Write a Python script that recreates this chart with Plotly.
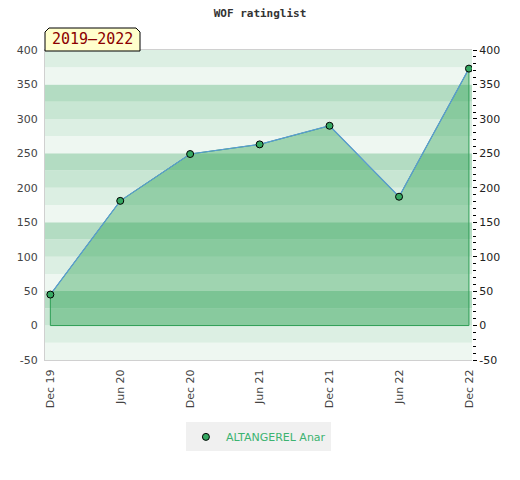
import plotly.graph_objects as go

dates = ["2019-12-01", "2020-06-01", "2020-12-01", "2021-06-01", "2021-12-01", "2022-06-01", "2022-12-01"]
ratings = [45, 181, 249, 263, 290, 187, 373]
tick_dates = dates
tick_labels = ["Dec 19", "Jun 20", "Dec 20", "Jun 21", "Dec 21", "Jun 22", "Dec 22"]
y_ticks = [-50, 0, 50, 100, 150, 200, 250, 300, 350, 400]
y_tick_labels = ["-50", "0", "50", "100", "150", "200", "250", "300", "350", "400"]
player = "ALTANGEREL Anar"
title = "WOF ratinglist"
period = "2019\u20132022"

y_min, y_max = -50, 400
band_colors = {75: "#dcefe3", 50: "#eef7f1", 25: "#b3dcc2", 0: "#c8e6d3"}

fig = go.Figure()

poly_x = dates + [dates[-1], dates[0], dates[0]]
poly_y = ratings + [0, 0, ratings[0]]
fig.add_trace(go.Scatter(x=poly_x, y=poly_y, mode="lines", fill="toself",
                         fillcolor="rgba(40,160,80,0.4)",
                         line=dict(color="#2e9e55", width=1),
                         hoverinfo="skip", showlegend=False))
fig.add_trace(go.Scatter(x=dates, y=ratings, mode="lines",
                         line=dict(color="#5b9bd5", width=1.2),
                         hoverinfo="skip", showlegend=False))
fig.add_trace(go.Scatter(x=dates, y=ratings, mode="markers", name=player,
                         marker=dict(size=7, color="#36a862", line=dict(color="#000", width=1))))
fig.add_trace(go.Scatter(x=[dates[0]], y=[ratings[0]], yaxis="y2", mode="markers",
                         marker=dict(opacity=0), hoverinfo="skip", showlegend=False))

shapes = []
b = y_min
while b < y_max:
    shapes.append(dict(type="rect", xref="paper", yref="y", x0=0, x1=1, y0=b, y1=b + 25,
                       fillcolor=band_colors[b % 100], line=dict(width=0), layer="below"))
    b += 25

x1 = 95 / 427
ya, yb = (360 - 51) / 310, (360 - 28) / 310
cx, cy = 4 / 427, 4 / 310
shapes.append(dict(type="path", xref="paper", yref="paper",
                   path=f"M 0,{ya} L 0,{yb - cy} L {cx},{yb} L {x1 - cx},{yb} L {x1},{yb - cy} L {x1},{ya} Z",
                   fillcolor="#ffffcc", line=dict(color="#000", width=1), layer="above"))

fig.update_layout(
    width=512, height=472,
    margin=dict(l=37, r=48, t=42, b=120, autoexpand=False),
    paper_bgcolor="white", plot_bgcolor="white",
    title=dict(text=f"<b>{title}</b>", x=(260 - 8) / 512, xanchor="center", y=1 - 5 / 472,
               yanchor="middle", yref="container",
               font=dict(family="DejaVu Sans Mono", size=11, color="#333")),
    shapes=shapes,
    annotations=[dict(text=period, xref="paper", yref="paper", x=x1 / 2, y=(ya + yb) / 2,
                      xanchor="center", yanchor="middle", showarrow=False,
                      font=dict(family="DejaVu Sans Mono", size=15, color="#8b0000"))],
    xaxis=dict(type="date", range=["2019-11-17", "2022-12-09"], automargin=False,
               tickvals=tick_dates, ticktext=tick_labels, tickangle=-90,
               tickfont=dict(family="DejaVu Sans", size=11, color="#444"),
               showgrid=False, zeroline=False, showline=True, linecolor="#d0d0d0",
               mirror=True, ticks="", ticklabelstandoff=4),
    yaxis=dict(range=[y_min, y_max], tickvals=y_ticks, ticktext=y_tick_labels,
               showgrid=False, zeroline=False, automargin=False,
               tickfont=dict(family="DejaVu Sans", size=11, color="#444"),
               showline=True, linecolor="#d0d0d0", ticks="", ticklabelstandoff=4),
    yaxis2=dict(range=[y_min, y_max], tickvals=y_ticks, ticktext=y_tick_labels,
                overlaying="y", side="right", automargin=False,
                showgrid=False, zeroline=False, ticks="outside", ticklen=4, tickcolor="#000",
                minor=dict(dtick=10, tick0=0, ticks="outside", ticklen=3, tickcolor="#000"),
                tickfont=dict(family="DejaVu Sans", size=11, color="#222")),
    showlegend=True,
    legend=dict(orientation="h", x=0.33, xanchor="left", y=-0.248, yanchor="middle",
                bgcolor="#f0f0f0", font=dict(family="DejaVu Sans", size=11, color="#3cb371")),
)

fig.write_html("out.html")
